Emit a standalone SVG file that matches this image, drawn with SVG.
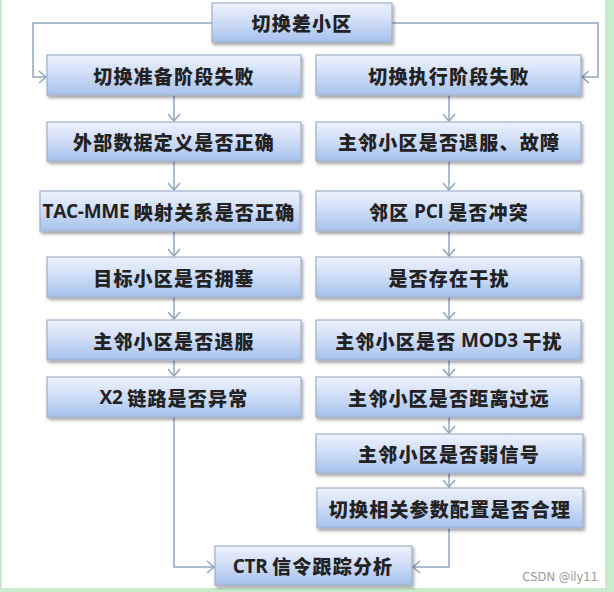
<svg xmlns="http://www.w3.org/2000/svg" width="614" height="592" viewBox="0 0 614 592">
<defs>
<linearGradient id="g" x1="0" y1="0" x2="0" y2="1">
<stop offset="0" stop-color="#eef3fc"/>
<stop offset="0.5" stop-color="#cddcf6"/>
<stop offset="1" stop-color="#a6c0ec"/>
</linearGradient>
<filter id="sh" x="-10%" y="-20%" width="120%" height="150%">
<feDropShadow dx="1.5" dy="2.5" stdDeviation="1.5" flood-color="#000" flood-opacity="0.35"/>
</filter>
<marker id="ar" markerUnits="userSpaceOnUse" markerWidth="10" markerHeight="14" refX="8" refY="7" orient="auto" viewBox="0 0 10 14">
<path d="M1,1 L8,7 L1,13" fill="none" stroke="#8ea6bf" stroke-width="1.5"/>
</marker>
</defs>
<style>
.b{fill:url(#g);stroke:#9eb0c8;stroke-width:1.2;filter:url(#sh)}
.t{font-family:"Noto Sans CJK SC",sans-serif;font-size:19px;font-weight:900;fill:#222222;text-anchor:middle;dominant-baseline:central;letter-spacing:1.2px}
.l{font-family:"Open Sans","Liberation Sans",sans-serif;font-weight:bold;letter-spacing:-0.3px}
.c{fill:none;stroke:#8ea6bf;stroke-width:1.5}
</style>
<rect x="0" y="0" width="614" height="592" fill="#ffffff"/>
<rect x="0" y="0" width="2" height="592" fill="#c9edcc"/>
<rect x="605" y="0" width="9" height="592" fill="#c9edcc"/>
<rect x="0" y="588" width="614" height="4" fill="#c9edcc"/>

<g id="connectors">
<path class="c" d="M212,23 H33 V77 H46" marker-end="url(#ar)"/>
<path class="c" d="M392,23 H598 V77 H582" marker-end="url(#ar)"/>
<path class="c" d="M174,95 V121" marker-end="url(#ar)"/>
<path class="c" d="M174,161 V190" marker-end="url(#ar)"/>
<path class="c" d="M174,231 V256" marker-end="url(#ar)"/>
<path class="c" d="M174,297 V319" marker-end="url(#ar)"/>
<path class="c" d="M174,360 V376" marker-end="url(#ar)"/>
<path class="c" d="M174,417 V567 H214" marker-end="url(#ar)"/>
<path class="c" d="M449,95 V121" marker-end="url(#ar)"/>
<path class="c" d="M449,161 V190" marker-end="url(#ar)"/>
<path class="c" d="M449,231 V256" marker-end="url(#ar)"/>
<path class="c" d="M449,297 V319" marker-end="url(#ar)"/>
<path class="c" d="M449,360 V376" marker-end="url(#ar)"/>
<path class="c" d="M449,417 V433" marker-end="url(#ar)"/>
<path class="c" d="M449,473 V487" marker-end="url(#ar)"/>
<path class="c" d="M449,528 V567 H413" marker-end="url(#ar)"/>
</g>

<g id="n0"><rect class="b" x="212" y="3" width="180" height="39"/><text class="t" x="302" y="22.5">切换差小区</text></g>
<g id="L1"><rect class="b" x="47" y="55" width="254" height="40"/><text class="t" x="174" y="75">切换准备阶段失败</text></g>
<g id="R1"><rect class="b" x="316" y="55" width="265" height="40"/><text class="t" x="449" y="75">切换执行阶段失败</text></g>
<g id="L2"><rect class="b" x="47" y="122" width="254" height="39"/><text class="t" x="174" y="141.5">外部数据定义是否正确</text></g>
<g id="R2"><rect class="b" x="316" y="122" width="265" height="39"/><text class="t" x="449" y="141.5">主邻小区是否退服、故障</text></g>
<g id="L3"><rect class="b" x="40" y="191" width="260" height="40"/><text class="t" x="169" y="211"><tspan class="l">TAC-MME </tspan>映射关系是否正确</text></g>
<g id="R3"><rect class="b" x="316" y="191" width="265" height="40"/><text class="t" x="449" y="211">邻区<tspan class="l"> PCI </tspan>是否冲突</text></g>
<g id="L4"><rect class="b" x="47" y="257" width="254" height="40"/><text class="t" x="174" y="277">目标小区是否拥塞</text></g>
<g id="R4"><rect class="b" x="316" y="257" width="265" height="40"/><text class="t" x="449" y="277">是否存在干扰</text></g>
<g id="L5"><rect class="b" x="47" y="320" width="254" height="40"/><text class="t" x="174" y="340">主邻小区是否退服</text></g>
<g id="R5"><rect class="b" x="316" y="320" width="265" height="40"/><text class="t" x="449" y="340">主邻小区是否<tspan class="l"> MOD3 </tspan>干扰</text></g>
<g id="L6"><rect class="b" x="47" y="377" width="254" height="40"/><text class="t" x="174" y="397"><tspan class="l">X2 </tspan>链路是否异常</text></g>
<g id="R6"><rect class="b" x="316" y="377" width="265" height="40"/><text class="t" x="449" y="397">主邻小区是否距离过远</text></g>
<g id="R7"><rect class="b" x="316" y="434" width="267" height="39"/><text class="t" x="449" y="453.5">主邻小区是否弱信号</text></g>
<g id="R8"><rect class="b" x="317" y="488" width="266" height="40"/><text class="t" x="450" y="508">切换相关参数配置是否合理</text></g>
<g id="B"><rect class="b" x="215" y="546" width="197" height="39"/><text class="t" x="313" y="565.5"><tspan class="l">CTR </tspan>信令跟踪分析</text></g>

<text x="598" y="581" font-family="'DejaVu Sans',sans-serif" font-size="11.5" fill="#9a9a9a" text-anchor="end">CSDN @ily11</text>
</svg>
